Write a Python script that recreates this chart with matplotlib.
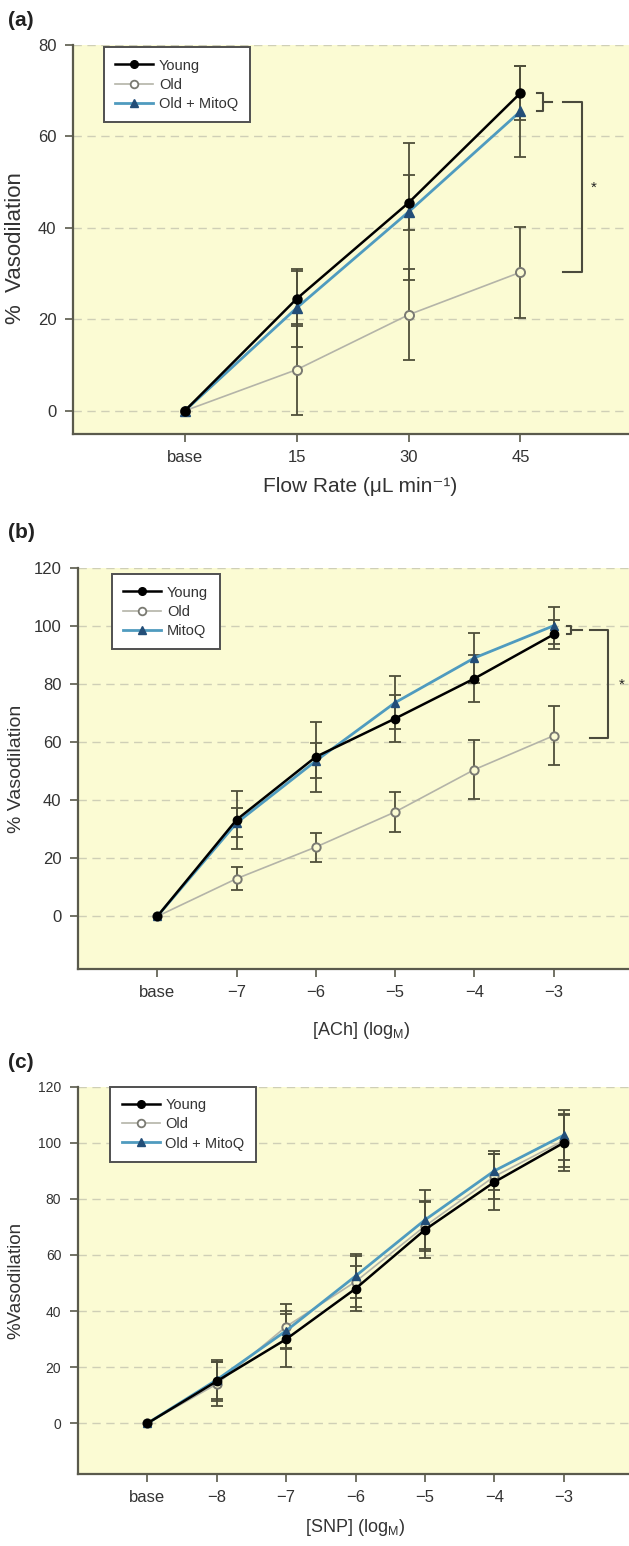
import matplotlib
matplotlib.use("Agg")
import matplotlib.pyplot as plt
from matplotlib.lines import Line2D

plt.rcParams['font.family'] = ['Liberation Sans', 'DejaVu Sans']

# ---------------- data ----------------
a_labels = ['base', '15', '30', '45']
a_young = [0, 24.5, 45.5, 69.5]
a_young_err = [0, 6, 6, 6]
a_old = [0, 9, 21, 30.3]
a_old_err = [0, 10, 10, 10]
a_mitoq = [0, 22.5, 43.5, 65.5]
a_mitoq_err = [0, 8.5, 15, 10]

b_labels = ['base', '\u22127', '\u22126', '\u22125', '\u22124', '\u22123']
b_young = [0, 33.3, 55.0, 68.2, 82.0, 97.2]
b_young_err = [0, 10, 12, 8, 8, 5]
b_old = [0, 13.0, 23.9, 36.0, 50.6, 62.3]
b_old_err = [0, 4, 5, 6.8, 10.2, 10.1]
b_mitoq = [0, 32.2, 53.6, 73.7, 89.1, 100.2]
b_mitoq_err = [0, 5, 6, 9, 8.6, 6.3]

c_labels = ['base', '\u22128', '\u22127', '\u22126', '\u22125', '\u22124', '\u22123']
c_young = [0, 15, 30, 48, 69, 86, 100]
c_young_err = [0, 7, 10, 8, 10, 10, 10]
c_old = [0, 14, 34.5, 50.5, 70.3, 88, 100.8]
c_old_err = [0, 8, 8, 9, 9, 8, 9.5]
c_mitoq = [0, 15.5, 33, 52.5, 72.5, 90, 102.7]
c_mitoq_err = [0, 7, 6, 8, 10.5, 7, 9]

# ---------------- style ----------------
BG = '#fbfbd3'
GRID = '#cfcfb6'
SPINE = '#5a5a4c'
ERR = '#4f4f3a'
YOUNG = '#000000'
OLD_LINE = '#b4b4a8'
OLD_MK = '#7a7a72'
MITO_LINE = '#4f9bbf'
MITO_MK = '#234e78'
TXT = '#333333'

fig = plt.figure(figsize=(6.29, 15.46), dpi=100)


def panel(rect, labels, young, yerr_y, old, yerr_o, mito, yerr_m,
          ylim, yticks, xlim, tick_fs_y, tick_fs_x, ms):
    ax = fig.add_axes(rect)
    ax.set_facecolor(BG)
    x = list(range(len(labels)))
    for v in yticks:
        ax.axhline(v, color=GRID, lw=1.0, ls=(0, (6, 4)), zorder=0)
    for vals, errs in ((old, yerr_o), (mito, yerr_m), (young, yerr_y)):
        ax.errorbar(x[1:], vals[1:], yerr=errs[1:], fmt='none', ecolor=ERR,
                    elinewidth=1.3, capsize=4, capthick=1.3, zorder=2)
    ax.plot(x, old, color=OLD_LINE, lw=1.2, marker='o', ms=ms, mfc=BG,
            mec=OLD_MK, mew=1.4, zorder=3)
    ax.plot(x, mito, color=MITO_LINE, lw=2.0, marker='^', ms=ms, mfc=MITO_MK,
            mec=MITO_MK, zorder=4)
    ax.plot(x, young, color=YOUNG, lw=1.8, marker='o', ms=ms, mfc=YOUNG,
            mec=YOUNG, zorder=5)
    ax.set_xlim(*xlim)
    ax.set_ylim(*ylim)
    ax.set_xticks(x)
    ax.set_xticklabels(labels, fontsize=tick_fs_x, color=TXT)
    ax.set_yticks(yticks)
    ax.set_yticklabels([str(v) for v in yticks], fontsize=tick_fs_y, color=TXT)
    for s in ('top', 'right'):
        ax.spines[s].set_visible(False)
    for s in ('left', 'bottom'):
        ax.spines[s].set_color(SPINE)
        ax.spines[s].set_linewidth(1.6)
    ax.tick_params(direction='out', length=6, width=1.2, color=SPINE, pad=6)
    return ax


def add_legend(ax, names, anchor, fs):
    handles = [
        Line2D([], [], color=YOUNG, lw=1.8, marker='o', ms=5.5, mfc=YOUNG, mec=YOUNG),
        Line2D([], [], color=OLD_LINE, lw=1.2, marker='o', ms=5.5, mfc='white', mec=OLD_MK, mew=1.3),
        Line2D([], [], color=MITO_LINE, lw=2.0, marker='^', ms=5.5, mfc=MITO_MK, mec=MITO_MK),
    ]
    leg = ax.legend(handles, names, loc='upper left', bbox_to_anchor=anchor,
                    borderaxespad=0, fontsize=fs, frameon=True, fancybox=False,
                    handlelength=2.6, handletextpad=0.4, labelspacing=0.35,
                    borderpad=0.8)
    leg.get_frame().set_edgecolor('#505050')
    leg.get_frame().set_linewidth(1.4)
    leg.get_frame().set_facecolor('white')
    leg.get_frame().set_alpha(1)
    for t in leg.get_texts():
        t.set_color(TXT)
    return leg


def bracket(ax, xs, y_top_small, y_bot_small, y_big_top, y_big_bot, star_xy):
    x_small, x_dash, x_big0, x_big1 = xs
    kw = dict(color='#4a4a3c', lw=1.5, clip_on=False, zorder=6)
    ax.plot([x_small - 0.05, x_small, x_small, x_small - 0.05],
            [y_top_small, y_top_small, y_bot_small, y_bot_small], **kw)
    ym = (y_top_small + y_bot_small) / 2
    ax.plot([x_small, x_dash], [ym, ym], **kw)
    ax.plot([x_big0, x_big1, x_big1, x_big0],
            [y_big_top, y_big_top, y_big_bot, y_big_bot], **kw)
    ax.text(star_xy[0], star_xy[1], '*', fontsize=11, ha='center', va='center',
            color='#222222')


def labels_for(ax, ylab, yfs, ycoords, xlab, xfs, xcoords):
    ax.set_ylabel(ylab, fontsize=yfs, color=TXT)
    ax.yaxis.label.set_va('center')
    ax.yaxis.set_label_coords(*ycoords)
    ax.set_xlabel(xlab, fontsize=xfs, color=TXT)
    ax.xaxis.label.set_va('center')
    ax.xaxis.set_label_coords(*xcoords)


# ---------------- panel (a) ----------------
axa = panel([0.116, 0.7195, 0.884, 0.2514], a_labels, a_young, a_young_err,
            a_old, a_old_err, a_mitoq, a_mitoq_err,
            ylim=(-5, 80), yticks=[0, 20, 40, 60, 80], xlim=(-1, 3.97),
            tick_fs_y=12, tick_fs_x=12, ms=6.5)
labels_for(axa, '%  Vasodilation', 16, (-0.1025, 0.478),
           'Flow Rate (\u03bcL min\u207b\u00b9)', 15, (0.516, -0.137))
add_legend(axa, ['Young', 'Old', 'Old + MitoQ'], (0.055, 0.995), 10.5)
bracket(axa, (3.20, 3.28, 3.38, 3.55), 69.5, 65.5, 67.5, 30.3, (3.655, 48.8))
fig.text(0.013, 1 - 21 / 1546, '(a)', fontsize=15, fontweight='bold',
         va='center', ha='left', color='#222222')

# ---------------- panel (b) ----------------
axb = panel([0.124, 0.3735, 0.876, 0.2589], b_labels, b_young, b_young_err,
            b_old, b_old_err, b_mitoq, b_mitoq_err,
            ylim=(-18, 120), yticks=[0, 20, 40, 60, 80, 100, 120], xlim=(-1, 5.95),
            tick_fs_y=12, tick_fs_x=12, ms=6)
labels_for(axb, '% Vasodilation', 14, (-0.1125, 0.5),
           '[ACh] (log$_{\\mathregular{M}}$)', 13, (0.514, -0.154))
add_legend(axb, ['Young', 'Old', 'MitoQ'], (0.061, 0.986), 10.5)
bracket(axb, (5.22, 5.355, 5.456, 5.684), 100.2, 97.2, 98.9, 61.6, (5.86, 80))
fig.text(0.013, 1 - 533 / 1546, '(b)', fontsize=15, fontweight='bold',
         va='center', ha='left', color='#222222')

# ---------------- panel (c) ----------------
axc = panel([0.124, 0.0467, 0.876, 0.2504], c_labels, c_young, c_young_err,
            c_old, c_old_err, c_mitoq, c_mitoq_err,
            ylim=(-18, 120), yticks=[0, 20, 40, 60, 80, 100, 120], xlim=(-1, 6.94),
            tick_fs_y=10, tick_fs_x=12, ms=6)
labels_for(axc, '%Vasodilation', 13.5, (-0.1125, 0.5),
           '[SNP] (log$_{\\mathregular{M}}$)', 13, (0.503, -0.14))
add_legend(axc, ['Young', 'Old', 'Old + MitoQ'], (0.058, 1.0), 10.5)
fig.text(0.013, 1 - 1063 / 1546, '(c)', fontsize=15, fontweight='bold',
         va='center', ha='left', color='#222222')

fig.savefig('out.png', dpi=100)
